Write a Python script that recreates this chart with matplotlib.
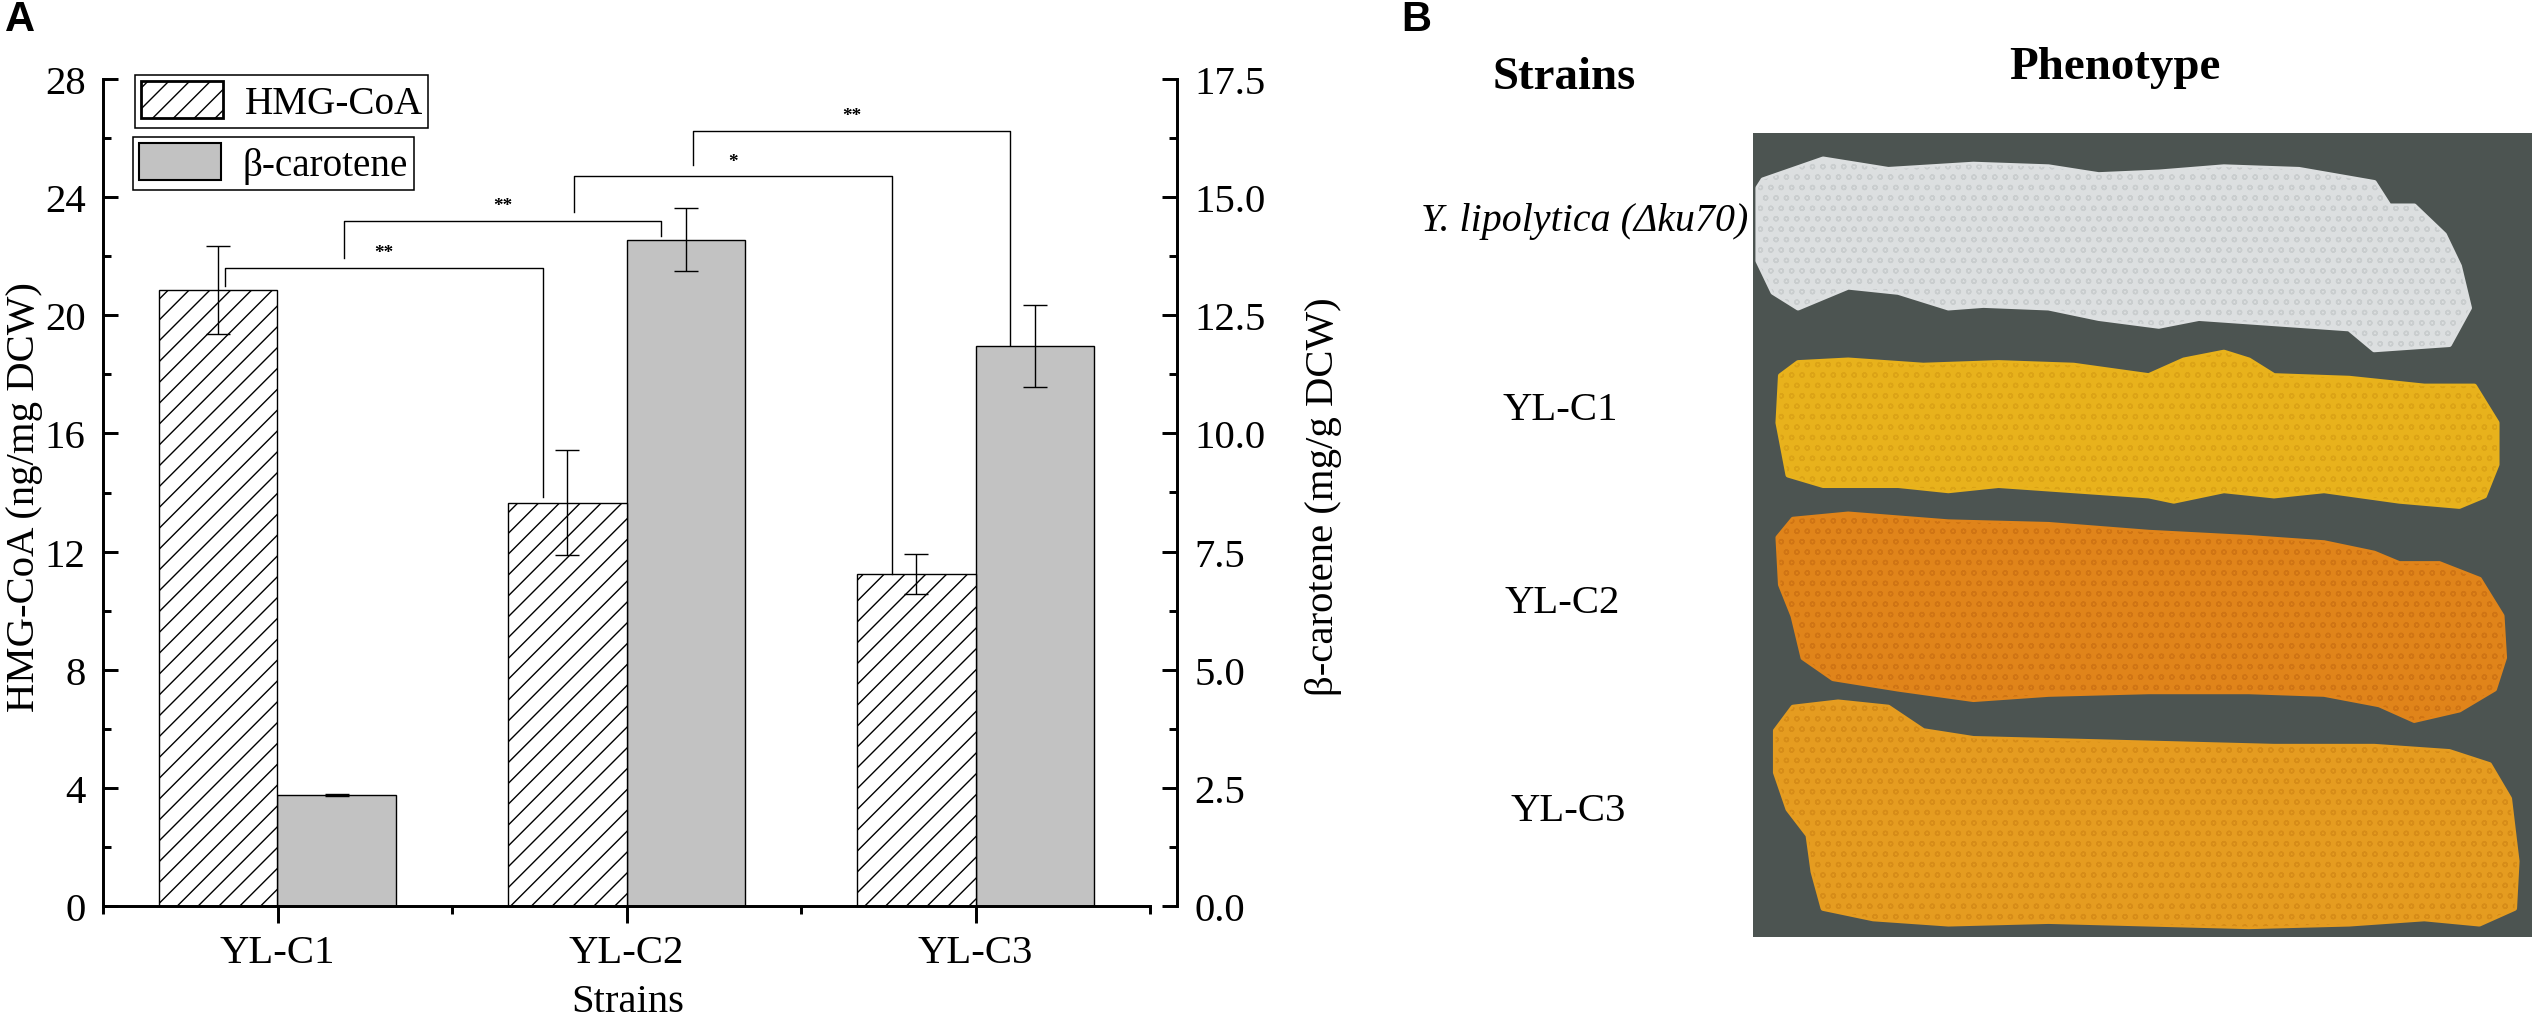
import numpy as np
import matplotlib
matplotlib.use('Agg')
import matplotlib.pyplot as plt
from matplotlib.patches import Patch, Polygon
from matplotlib.ticker import MultipleLocator, FixedLocator, FormatStrFormatter

plt.rcParams['font.family'] = ['Liberation Serif', 'DejaVu Serif']
plt.rcParams['hatch.color'] = 'black'
plt.rcParams['hatch.linewidth'] = 0.8

# ==========================
# Data (panel A)
# ==========================
strains = ['YL-C1', 'YL-C2', 'YL-C3']
hmg = [20.85, 13.66, 11.24]        # ng/mg DCW
hmg_err = [1.50, 1.78, 0.67]
bcar = [2.34, 14.10, 11.85]        # mg/g DCW
bcar_err = [0.02, 0.67, 0.87]

# significance brackets: (strain index, series) -> (strain index, series)
sig_from = [(0, 'hmg'), (0, 'bcar'), (1, 'hmg'), (1, 'bcar')]
sig_to = [(1, 'hmg'), (1, 'bcar'), (2, 'hmg'), (2, 'bcar')]
sig_top = [21.6, 23.2, 24.7, 26.25]
sig_from_low = [21.0, 21.95, 23.5, 25.1]
sig_to_low = [13.85, 22.7, 11.25, 19.0]
sig_text = ['**', '**', '*', '**']

# panel B labels
plate_labels = ['Y. lipolytica (\u0394ku70)', 'YL-C1', 'YL-C2', 'YL-C3']

W, H = 2534, 1019
DPI = 125
fig = plt.figure(figsize=(W / DPI, H / DPI), dpi=DPI)
fig.patch.set_facecolor('white')

# ==========================
# Panel A
# ==========================
ax = fig.add_axes([103 / W, 1 - 907 / H, (1150 - 103) / W, (907 - 80) / H])
ax2 = ax.twinx()
ax.set_zorder(ax2.get_zorder() + 1)
ax.patch.set_visible(False)

x = np.arange(1, len(strains) + 1)
w = 0.34
centers = {'hmg': x - w / 2, 'bcar': x + w / 2}

ax.bar(centers['hmg'], hmg, w, facecolor='white', edgecolor='black',
       linewidth=0.8, hatch='//')
ax.errorbar(centers['hmg'], hmg, yerr=hmg_err, fmt='none', ecolor='black',
            elinewidth=0.8, capsize=7, capthick=0.8)

ax2.bar(centers['bcar'], bcar, w, facecolor='#c2c2c2', edgecolor='black',
        linewidth=0.8)
ax2.errorbar(centers['bcar'], bcar, yerr=bcar_err, fmt='none', ecolor='black',
             elinewidth=0.8, capsize=7, capthick=0.8)

# brackets
for (i, si), (j, sj), top, lo1, lo2, txt in zip(sig_from, sig_to, sig_top,
                                                 sig_from_low, sig_to_low, sig_text):
    xa = centers[si][i] + 0.02
    xb = centers[sj][j] - 0.07
    ax.plot([xa, xa, xb, xb], [lo1, top, top, lo2], color='black', lw=0.8)
    ax.text((xa + xb) / 2, top + 0.36, txt, ha='center', va='baseline',
            fontsize=11, fontweight='bold')

ax.set_xlim(0.5, 3.5)
ax.set_ylim(0, 28)
ax2.set_ylim(0, 17.5)

ax.set_xticks(x)
ax.set_xticklabels(strains)
ax.xaxis.set_minor_locator(FixedLocator([0.5, 1.5, 2.5, 3.5]))
ax.yaxis.set_major_locator(MultipleLocator(4))
ax.yaxis.set_minor_locator(MultipleLocator(2))
ax2.yaxis.set_major_locator(MultipleLocator(2.5))
ax2.yaxis.set_minor_locator(MultipleLocator(1.25))
ax2.yaxis.set_major_formatter(FormatStrFormatter('%.1f'))

for s in ['top', 'right']:
    ax.spines[s].set_visible(False)
for s in ['top', 'left', 'bottom']:
    ax2.spines[s].set_visible(False)
ax.spines['left'].set_linewidth(1.7)
ax.spines['bottom'].set_linewidth(1.7)
ax2.spines['right'].set_linewidth(1.7)
ax2.spines['right'].set_position(('outward', 15.5))

ax.tick_params(axis='y', which='major', direction='in', length=8.6, width=1.7,
               labelsize=23.5, pad=10)
ax.tick_params(axis='y', which='minor', direction='in', length=4.6, width=1.7)
ax.tick_params(axis='x', which='major', direction='out', length=9.8, width=1.7,
               labelsize=23.5, pad=6.5)
ax.tick_params(axis='x', which='minor', direction='out', length=4.6, width=1.7)
ax2.tick_params(axis='y', which='major', direction='in', length=8.6, width=1.7,
                labelsize=23.5, pad=10)
ax2.tick_params(axis='y', which='minor', direction='in', length=4.6, width=1.7)

fig.text(25 / W, 1 - 497 / H, 'HMG-CoA (ng/mg DCW)', rotation=90,
         ha='center', va='center', fontsize=23.5)
fig.text(1324 / W, 1 - 497 / H, '\u03b2-carotene (mg/g DCW)', rotation=90,
         ha='center', va='center', fontsize=23.5)
fig.text(628 / W, 1 - 1003 / H, 'Strains', ha='center', va='center',
         fontsize=23.5)

# legend (two separate boxes)
h1 = Patch(facecolor='white', edgecolor='black', hatch='//', linewidth=1.6)
h2 = Patch(facecolor='#c2c2c2', edgecolor='black', linewidth=1.2)
leg_kw = dict(loc='upper left', bbox_transform=fig.transFigure, frameon=True,
              fancybox=False, edgecolor='black', fontsize=22.5, handlelength=2.1,
              handleheight=1.1, handletextpad=0.55, borderpad=0.15,
              borderaxespad=0, framealpha=1)
leg1 = ax.legend([h1], ['HMG-CoA'], bbox_to_anchor=(135 / W, 1 - 76 / H), **leg_kw)
leg1.get_frame().set_linewidth(0.9)
ax.add_artist(leg1)
leg2 = ax.legend([h2], ['\u03b2-carotene'], bbox_to_anchor=(133 / W, 1 - 138 / H), **leg_kw)
leg2.get_frame().set_linewidth(0.9)

fig.text(20 / W, 1 - 20 / H, 'A', ha='center', va='center', fontsize=24,
         fontweight='bold', family='Liberation Sans')

# ==========================
# Panel B (plate photo, drawn as shapes)
# ==========================
axb = fig.add_axes([1753 / W, 1 - 938 / H, 779 / W, 804 / H])
axb.set_xlim(10, 1565)
axb.set_ylim(1545, 5)
axb.set_facecolor('#4c5451')
axb.set_xticks([])
axb.set_yticks([])
for s in axb.spines.values():
    s.set_visible(False)

streak_white = [(20, 110), (30, 95), (150, 55), (280, 75), (450, 65), (600, 70),
                (700, 85), (820, 80), (950, 70), (1100, 75), (1250, 100),
                (1280, 145), (1330, 145), (1390, 200), (1420, 260), (1440, 340),
                (1400, 410), (1250, 420), (1200, 380), (1050, 370), (900, 360),
                (820, 375), (700, 360), (600, 340), (470, 335), (400, 340),
                (300, 310), (200, 300), (100, 340), (50, 310), (20, 250)]
streak_c1 = [(65, 470), (100, 445), (200, 440), (350, 450), (500, 445), (650, 450),
             (800, 470), (870, 440), (950, 425), (1000, 440), (1050, 470),
             (1200, 475), (1350, 490), (1450, 490), (1495, 560), (1495, 640),
             (1470, 700), (1420, 720), (1300, 710), (1150, 690), (1050, 700),
             (950, 690), (850, 710), (800, 700), (650, 690), (500, 680),
             (400, 690), (300, 680), (150, 680), (80, 660), (60, 560)]
streak_c2 = [(60, 780), (90, 745), (200, 735), (400, 750), (600, 755), (800, 770),
             (1000, 780), (1150, 790), (1250, 810), (1300, 830), (1380, 830),
             (1460, 860), (1505, 930), (1510, 1010), (1490, 1070), (1420, 1110),
             (1330, 1130), (1260, 1100), (1150, 1080), (1000, 1075), (800, 1075),
             (600, 1080), (450, 1090), (300, 1070), (170, 1050), (110, 1010),
             (90, 930), (65, 870)]
streak_c3 = [(55, 1150), (90, 1105), (180, 1095), (280, 1105), (350, 1150),
             (450, 1165), (650, 1170), (850, 1175), (1050, 1180), (1250, 1180),
             (1400, 1190), (1480, 1215), (1520, 1280), (1535, 1400), (1530, 1490),
             (1460, 1520), (1350, 1510), (1200, 1520), (1000, 1525), (800, 1520),
             (600, 1515), (400, 1520), (250, 1510), (150, 1490), (130, 1420),
             (120, 1350), (80, 1300), (55, 1230)]
streak_cols = ['#dcdfe0', '#e8b21c', '#e0841a', '#e59c20']
texture_cols = ['#c9cdce', '#dba316', '#cf7414', '#d68c18']

for pts, col, tcol in zip([streak_white, streak_c1, streak_c2, streak_c3],
                          streak_cols, texture_cols):
    axb.add_patch(Polygon(pts, closed=True, facecolor=col, edgecolor=col,
                          linewidth=3, joinstyle='round'))
    # colony texture
    axb.add_patch(Polygon(pts, closed=True, facecolor='none', edgecolor=tcol,
                          linewidth=0, hatch='oo'))

fig.text(1416 / W, 1 - 20 / H, 'B', ha='center', va='center', fontsize=24,
         fontweight='bold', family='Liberation Sans')
fig.text(1564 / W, 1 - 78 / H, 'Strains', ha='center', va='center',
         fontsize=27, fontweight='bold')
fig.text(2115 / W, 1 - 68 / H, 'Phenotype', ha='center', va='center',
         fontsize=27, fontweight='bold')

fig.text(1748 / W, 1 - 221 / H, plate_labels[0], ha='right', va='center',
         fontsize=23, style='italic')
for lab, xp, yp in zip(plate_labels[1:], [1560, 1562, 1568], [410, 604, 812]):
    fig.text(xp / W, 1 - yp / H, lab, ha='center', va='center', fontsize=23.5)

fig.savefig('out.png', dpi=DPI)
